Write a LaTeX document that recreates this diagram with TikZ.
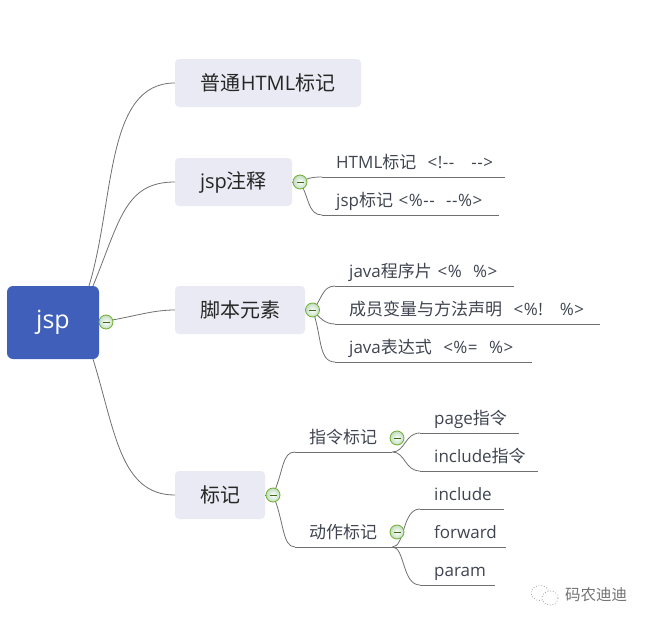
\documentclass[tikz,border=0pt]{standalone}
\usepackage{fontspec}
\setmainfont{Open Sans}
\newfontfamily\cjk{Noto Sans CJK SC}
\newfontfamily\tagfont{Open Sans}[LetterSpace=3]
\newcommand{\zh}[1]{{\cjk #1}}
\newcommand{\tagtext}[1]{{\tagfont #1}}
\definecolor{rootblue}{HTML}{3F5FBB}
\definecolor{topicgray}{HTML}{E9EAF3}
\definecolor{linegray}{HTML}{707070}
\definecolor{textgray}{HTML}{3F4450}
\definecolor{knobgreen}{HTML}{6FAE2E}
\tikzset{
  root/.style={fill=rootblue, text=white, rounded corners=6pt, font=\fontsize{25}{25}\selectfont, inner sep=0pt},
  topic/.style={fill=topicgray, text=black!85, rounded corners=4pt, font=\fontsize{20}{20}\selectfont, inner sep=0pt, minimum height=48pt},
  leaf/.style={anchor=south west, align=left, inner xsep=14pt, inner ysep=2pt, text height=15pt, text depth=6pt, text=textgray, font=\fontsize{17}{20}\selectfont},
  branch/.style={draw=linegray, line width=.8pt},
  knob/.style={circle, draw=knobgreen, line width=.8pt, inner color=white, outer color=green!45!black!25, minimum size=14pt, inner sep=0pt,
    path picture={\draw [knobgreen!60!black, line width=.9pt] ([xshift=-3.5pt]path picture bounding box.center) -- ([xshift=3.5pt]path picture bounding box.center);}},
}
\begin{document}
\begin{tikzpicture}[x=1pt, y=-1pt]
\useasboundingbox (0,0) rectangle (648,624);

\coordinate (rootup) at (89,286);
\coordinate (rootmid) at (93,286);
\coordinate (rootlow) at (93,359);
\coordinate (jspknob) at (106,322);
\coordinate (noteknob) at (300,182);
\coordinate (scriptknob) at (312.5,310);
\coordinate (markknob) at (273,495);
\coordinate (orderknob) at (397,438);
\coordinate (actionknob) at (397,532);

\node [root, minimum width=92pt, minimum height=73pt] (jsp) at (53,322.5) {jsp};
\node [topic, minimum width=186pt] (html) at (268,83) {\zh{普通}HTML\zh{标记}};
\node [topic, minimum width=117pt] (note) at (233.5,182) {jsp\zh{注释}};
\node [topic, minimum width=130pt] (script) at (240,310) {\zh{脚本元素}};
\node [topic, minimum width=90pt] (mark) at (220,495) {\zh{标记}};

% comment leaves
\node [leaf, text width=155pt] (htmlnote) at (322,177) {\mbox{HTML\zh{标记}\ \ \tagtext{<!-{}-\ \ \ -{}->}}};
\node [leaf, text width=149pt] (jspnote) at (322,215) {\mbox{jsp\zh{标记}\ \tagtext{<\%-{}-\ \ -{}-\%>}}};

% script leaves
\node [leaf, text width=151pt] (piece) at (335,286) {\mbox{java\zh{程序片}\ \tagtext{<\%\ \ \%>}}};
\node [leaf, text width=237pt] (member) at (335,324) {\mbox{\zh{成员变量与方法声明}\ \ \tagtext{<\%!\ \ \ \%>}}};
\node [leaf, text width=169pt] (express) at (335,362) {\mbox{java\zh{表达式}\ \ \tagtext{<\%=\ \ \%>}}};

% mark leaves
\node [leaf, text width=69pt] (order) at (295,452) {\mbox{\zh{指令标记}}};
\node [leaf, text width=69pt] (action) at (295,547) {\mbox{\zh{动作标记}}};
\node [leaf, text width=71pt] (page) at (420,433) {\mbox{page\zh{指令}}};
\node [leaf, text width=90pt] (incorder) at (420,471) {\mbox{include\zh{指令}}};
\node [leaf, text width=56pt] (include) at (420,509) {include};
\node [leaf, text width=58pt] (forward) at (420,547) {forward};
\node [leaf, text width=47pt] (param) at (420,585) {param};

\draw [branch] (rootup) .. controls (115,200) and (105,83) .. (html.west);
\draw [branch] (rootmid) .. controls (120,220) and (125,182) .. (note.west);
\draw [branch] (jsp.east |- jspknob) .. controls (130,318) and (150,310) .. (script.west);
\draw [branch] (rootlow) .. controls (115,430) and (120,495) .. (mark.west);

\draw [branch] (note.east) -- (noteknob);
\draw [branch] (noteknob) .. controls (308,178) and (312,177) .. (htmlnote.south west);
\draw [branch] (noteknob) .. controls (309,197) and (308,215) .. (jspnote.south west);

\draw [branch] (script.east) -- (scriptknob);
\draw [branch] (scriptknob) .. controls (322,300) and (322,286) .. (piece.south west);
\draw [branch] (scriptknob) .. controls (320,318) and (325,324) .. (member.south west);
\draw [branch] (scriptknob) .. controls (322,335) and (318,362) .. (express.south west);

\draw [branch] (mark.east) -- (markknob);
\draw [branch] (markknob) .. controls (284,470) and (282,452) .. (order.south west);
\draw [branch] (markknob) .. controls (284,520) and (282,547) .. (action.south west);

\draw [branch] (order.south east) .. controls (405,452) and (405,433) .. (page.south west);
\draw [branch] (order.south east) .. controls (405,452) and (405,471) .. (incorder.south west);
\draw [branch] (action.south east) .. controls (405,547) and (402,509) .. (include.south west);
\draw [branch] (action.south east) -- (forward.south west);
\draw [branch] (action.south east) .. controls (405,547) and (402,585) .. (param.south west);

\foreach \n in {htmlnote,jspnote,piece,member,express,order,action,page,incorder,include,forward,param}
  \draw [branch] (\n.south west) -- (\n.south east);

\foreach \n in {jspknob,noteknob,scriptknob,markknob,orderknob,actionknob}
  \node [knob] (\n icon) at (\n) {};

% watermark
\draw [black!45, dotted, line width=.7pt] (540,593) ellipse [x radius=9pt, y radius=7.5pt];
\draw [black!45, dotted, line width=.7pt, fill=white] (550,598) ellipse [x radius=8pt, y radius=7pt];
\node [black!55, font=\fontsize{15.5}{15}\selectfont\cjk, inner sep=0pt] (wechat) at (596,595) {码农迪迪};
\end{tikzpicture}
\end{document}
